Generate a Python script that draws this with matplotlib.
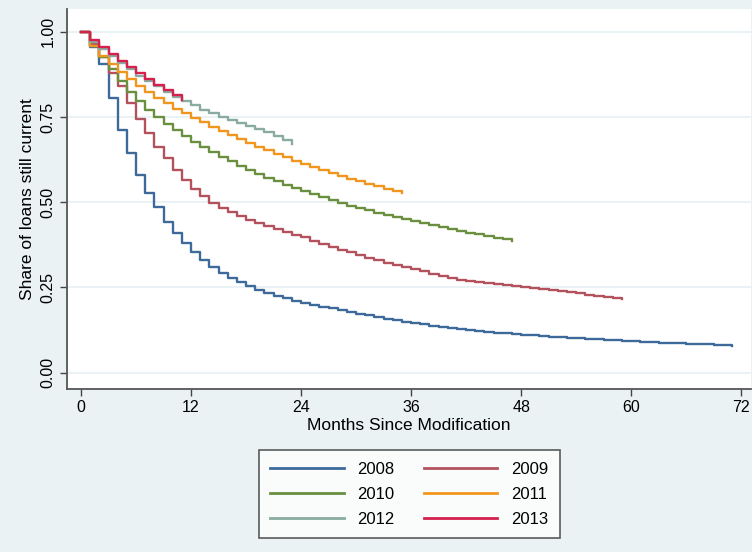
import matplotlib
matplotlib.use("Agg")
import matplotlib.pyplot as plt
import numpy as np

# survival share by month since modification
s2008 = [1.0, 0.955, 0.905, 0.805, 0.712, 0.644, 0.580, 0.526, 0.487, 0.443,
         0.409, 0.379, 0.353, 0.330, 0.310, 0.293, 0.278, 0.265, 0.254, 0.243,
         0.234, 0.226, 0.218, 0.211, 0.205, 0.199, 0.193, 0.188, 0.183, 0.178,
         0.173, 0.168, 0.163, 0.158, 0.153, 0.149, 0.145, 0.141, 0.137, 0.134,
         0.130, 0.127, 0.124, 0.122, 0.119, 0.117, 0.115, 0.113, 0.111, 0.109,
         0.107, 0.105, 0.104, 0.102, 0.101, 0.099, 0.098, 0.096, 0.095, 0.093,
         0.092, 0.091, 0.089, 0.088, 0.087, 0.086, 0.085, 0.084, 0.083, 0.082,
         0.080, 0.078]
s2009 = [1.0, 0.965, 0.925, 0.880, 0.840, 0.790, 0.745, 0.703, 0.663, 0.629,
         0.595, 0.565, 0.538, 0.517, 0.498, 0.483, 0.470, 0.459, 0.449, 0.439,
         0.430, 0.421, 0.413, 0.405, 0.397, 0.385, 0.377, 0.369, 0.361, 0.353,
         0.345, 0.337, 0.330, 0.323, 0.316, 0.310, 0.304, 0.297, 0.290, 0.283,
         0.277, 0.273, 0.269, 0.266, 0.263, 0.260, 0.257, 0.254, 0.251, 0.248,
         0.245, 0.242, 0.238, 0.235, 0.232, 0.229, 0.226, 0.222, 0.219, 0.215]
s2010 = [1.0, 0.960, 0.925, 0.890, 0.855, 0.825, 0.797, 0.772, 0.750, 0.730,
         0.712, 0.695, 0.678, 0.662, 0.647, 0.633, 0.620, 0.607, 0.595, 0.583,
         0.572, 0.561, 0.551, 0.541, 0.532, 0.523, 0.514, 0.506, 0.498, 0.490,
         0.483, 0.476, 0.469, 0.462, 0.456, 0.450, 0.444, 0.438, 0.432, 0.427,
         0.421, 0.416, 0.411, 0.406, 0.401, 0.396, 0.391, 0.386]
s2011 = [1.0, 0.960, 0.930, 0.905, 0.883, 0.862, 0.842, 0.823, 0.806, 0.790,
         0.775, 0.762, 0.748, 0.735, 0.722, 0.710, 0.697, 0.685, 0.674, 0.663,
         0.652, 0.642, 0.632, 0.622, 0.612, 0.603, 0.594, 0.585, 0.577, 0.569,
         0.561, 0.554, 0.547, 0.540, 0.533, 0.527]
s2012 = [1.0, 0.970, 0.950, 0.930, 0.910, 0.890, 0.870, 0.855, 0.840, 0.825,
         0.810, 0.797, 0.784, 0.772, 0.761, 0.751, 0.742, 0.733, 0.724, 0.715,
         0.705, 0.695, 0.684, 0.670]
s2013 = [1.0, 0.975, 0.955, 0.935, 0.915, 0.897, 0.878, 0.862, 0.845, 0.830,
         0.815, 0.800]

years = ["2008", "2009", "2010", "2011", "2012", "2013"]
series = [s2008, s2009, s2010, s2011, s2012, s2013]
colors = ["#3d6a9b", "#b3525c", "#6a8f3e", "#f0961e", "#8aaba0", "#d6204e"]

xticks = [0, 12, 24, 36, 48, 60, 72]
yticks = [0.0, 0.25, 0.5, 0.75, 1.0]

plt.rcParams['font.family'] = ['Liberation Sans', 'DejaVu Sans']

fig = plt.figure(figsize=(7.52, 5.52), dpi=100, facecolor="#eaf2f3")
ax = fig.add_axes([0.0887, 0.2958, 0.9100, 0.6880])
ax.set_facecolor("white")

lines = []
for yr, vals, c in zip(years, series, colors):
    ln, = ax.plot(np.arange(len(vals)), vals, drawstyle="steps-post", color=c, lw=1.7, label=yr)
    lines.append(ln)

ax.set_xlim(-1.56, 73.07)
ax.set_ylim(-0.0476, 1.0675)
ax.set_xticks(xticks)
ax.set_yticks(yticks)
ax.set_yticklabels(["%.2f" % v for v in yticks], rotation=90, va="center")
ax.tick_params(direction="out", length=5, width=1, color="#444444", labelsize=11.5, pad=3)
ax.yaxis.grid(True, color="#e8f0f3", lw=1.2)
ax.set_axisbelow(True)
for s in ["top", "right"]:
    ax.spines[s].set_visible(False)
for s in ["left", "bottom"]:
    ax.spines[s].set_color("#555555")
    ax.spines[s].set_linewidth(1.3)

ax.set_xlabel("Months Since Modification", fontsize=12.5, labelpad=2)
ax.set_ylabel("Share of loans still current", fontsize=12.5, labelpad=4)

# legend fills row by row: 2008 2009 / 2010 2011 / 2012 2013
order = [0, 2, 4, 1, 3, 5]
leg = fig.legend([lines[i] for i in order], [years[i] for i in order],
                 loc="center", bbox_to_anchor=(0.544, 0.105), ncol=2, fontsize=12,
                 handlelength=4.4, columnspacing=1.8, handletextpad=0.8, labelspacing=0.6,
                 frameon=True, fancybox=False, edgecolor="#333333", borderpad=0.7)
leg.get_frame().set_linewidth(1.2)
for line in leg.get_lines():
    line.set_linewidth(2.0)

fig.savefig("out.png", dpi=100, facecolor=fig.get_facecolor())
